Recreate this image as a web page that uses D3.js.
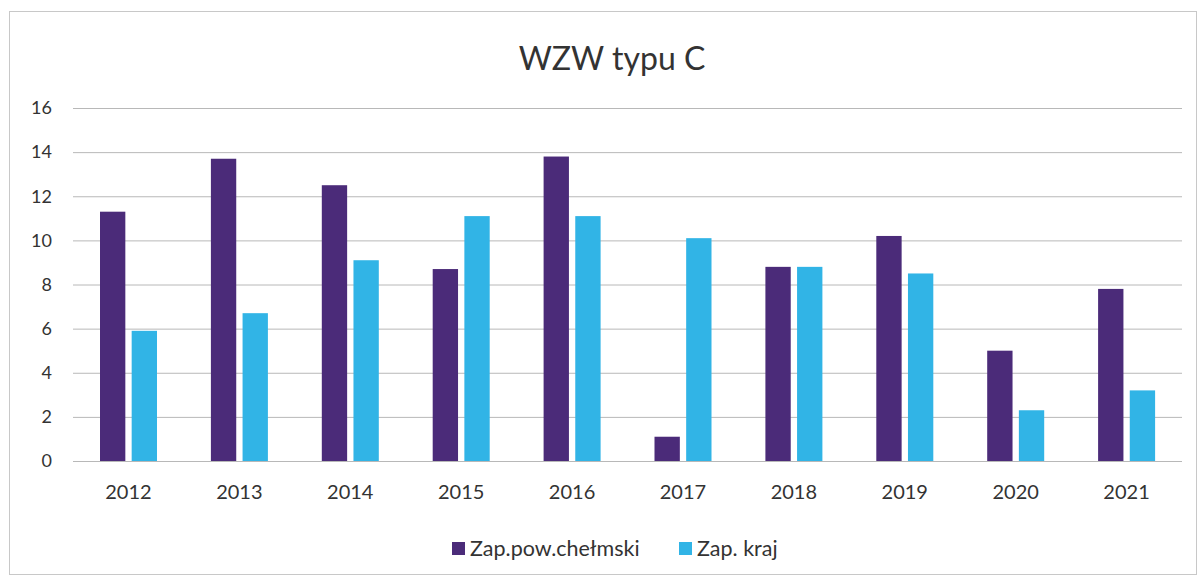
<!DOCTYPE html>
<html>
<head>
<meta charset="utf-8">
<script src="https://cdn.jsdelivr.net/npm/d3@7"></script>
<style>
  body { margin: 0; background: #fff; }
  text { font-family: Lato, "Open Sans", sans-serif; fill: #333; }
</style>
</head>
<body>
<div id="chart"></div>
<script>
const years = ['2012', '2013', '2014', '2015', '2016', '2017', '2018', '2019', '2020', '2021'];
const seriesNames = ['Zap.pow.chełmski', 'Zap. kraj'];
const powiat = [11.3, 13.7, 12.5, 8.7, 13.8, 1.1, 8.8, 10.2, 5.0, 7.8];
const kraj = [5.9, 6.7, 9.1, 11.1, 11.1, 10.1, 8.8, 8.5, 2.3, 3.2];
const yTicks = [0, 2, 4, 6, 8, 10, 12, 14, 16];
const colors = ['#4b2b79', '#31b4e6'];

const w = 1201;
const h = 579;
const plotLeft = 73, plotRight = 1182, plotTop = 108, plotBottom = 461;

const svg = d3.select('#chart')
              .append('svg')
              .attr('width', w)
              .attr('height', h);

// frame round the chart
svg.append('rect')
   .attr('x', 9.5).attr('y', 11.5)
   .attr('width', 1187).attr('height', 563)
   .attr('fill', 'none')
   .attr('stroke', '#c8c8c8');

svg.append('text')
   .attr('x', 612).attr('y', 70)
   .attr('text-anchor', 'middle')
   .style('font-size', '32px')
   .text('WZW typu C');

const x = d3.scaleBand().domain(years).range([plotLeft, plotRight]);
const x1 = d3.scaleBand().domain(seriesNames).range([27, 84]).paddingInner(0.2);
const y = d3.scaleLinear().domain([0, 16]).range([plotBottom, plotTop]);

// gridlines + y labels
const yAxis = d3.axisLeft(y).tickValues(yTicks).tickSize(-(plotRight - plotLeft)).tickPadding(21);
svg.append('g')
   .attr('transform', 'translate(' + plotLeft + ',0)')
   .call(yAxis)
   .call(g => g.select('.domain').remove())
   .call(g => g.selectAll('line').attr('stroke', '#b8b8b8'))
   .call(g => g.selectAll('text').style('font-size', '18px').attr('fill', '#333'));

const xAxis = d3.axisBottom(x).tickSize(0).tickPadding(24);
svg.append('g')
   .attr('transform', 'translate(0,' + plotBottom + ')')
   .call(xAxis)
   .call(g => g.select('.domain').remove())
   .call(g => g.selectAll('text').style('font-size', '20px').attr('fill', '#333'));

const rows = years.map((yr, i) => ({ year: yr, vals: [powiat[i], kraj[i]] }));

svg.append('g')
   .selectAll('g')
   .data(rows)
   .enter()
   .append('g')
   .attr('transform', d => 'translate(' + x(d.year) + ',0)')
   .selectAll('rect')
   .data(d => d.vals.map((v, k) => ({ name: seriesNames[k], v: v, k: k })))
   .enter()
   .append('rect')
   .attr('x', d => x1(d.name))
   .attr('y', d => y(d.v))
   .attr('width', x1.bandwidth())
   .attr('height', d => plotBottom - y(d.v))
   .attr('fill', d => colors[d.k]);

// legend
const legend = svg.append('g').attr('transform', 'translate(452,556)');
const legX = [0, 227];
seriesNames.forEach((name, k) => {
    const item = legend.append('g').attr('transform', 'translate(' + legX[k] + ',0)');
    item.append('rect')
        .attr('x', 0).attr('y', -14)
        .attr('width', 13).attr('height', 13)
        .attr('fill', colors[k]);
    item.append('text')
        .attr('x', 18).attr('y', 0)
        .style('font-size', '21.5px')
        .text(name);
});
</script>
</body>
</html>
